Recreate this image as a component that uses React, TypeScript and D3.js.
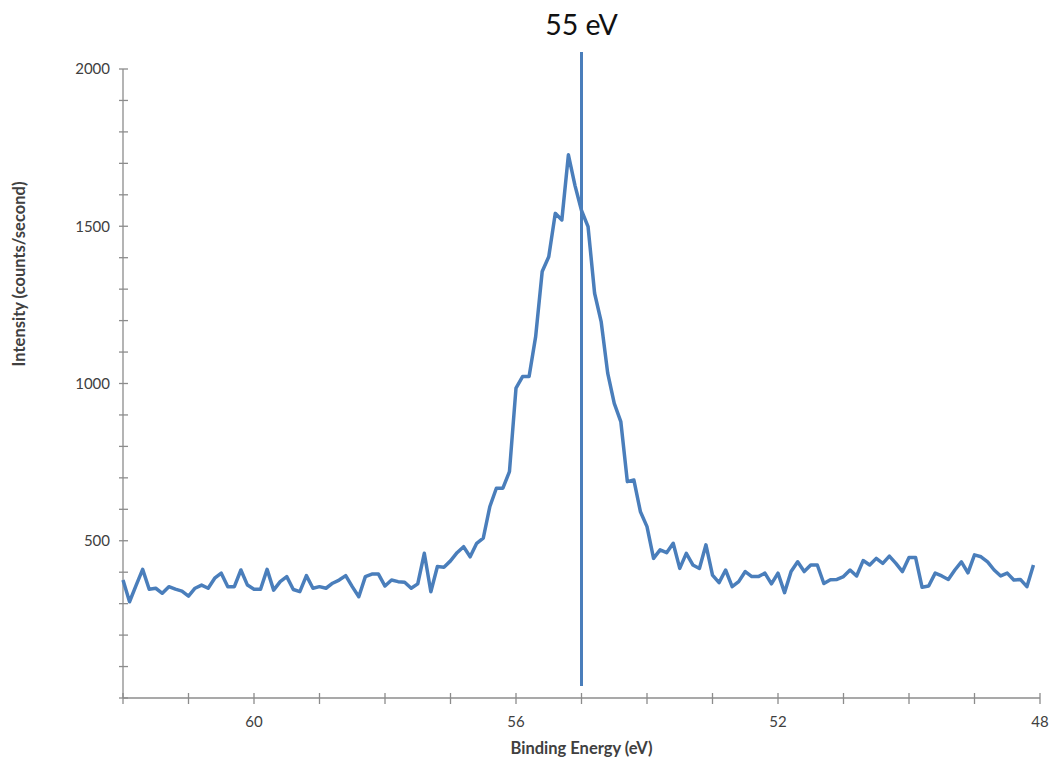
import React from "react";
import * as d3 from "d3";

const startEnergy = 62.0;
const stepEnergy = 0.1;
const intensity: number[] = [
  375, 306, 358, 409, 346, 349, 333, 354, 346, 340,
  324, 349, 359, 349, 381, 397, 354, 354, 407, 359,
  346, 346, 409, 343, 370, 386, 345, 338, 389, 349,
  354, 349, 365, 375, 389, 354, 322, 386, 394, 394,
  356, 375, 370, 368, 349, 363, 460, 338, 418, 416,
  436, 462, 481, 449, 492, 508, 608, 667, 667, 720,
  985, 1022, 1022, 1149, 1356, 1403, 1541, 1520, 1727, 1630,
  1550, 1499, 1287, 1197, 1033, 937, 879, 688, 693, 592,
  545, 444, 471, 462, 492, 412, 460, 423, 412, 487,
  391, 367, 407, 354, 370, 402, 386, 386, 397, 363,
  397, 335, 402, 433, 402, 423, 423, 364, 376, 377,
  386, 407, 388, 437, 423, 444, 428, 451, 428, 402,
  447, 447, 352, 356, 397, 388, 377, 407, 433, 398,
  455, 449, 433, 407, 388, 397, 375, 377, 354, 423,
];
const energies: number[] = intensity.map((_, i) => +(startEnergy - i * stepEnergy).toFixed(1));

const xDomain = [62, 48];
const yDomain = [0, 2000];
const xMajorTicks = [60, 56, 52, 48];
const xMinorTicks = d3.range(62, 47.5, -1);
const yMajorTicks = [500, 1000, 1500, 2000];
const yMinorTicks = d3.range(0, 2001, 100);
const markerEnergy = 55;
const markerLabel = "55 eV";
const xTitle = "Binding Energy (eV)";
const yTitle = "Intensity (counts/second)";

export default function App() {
  const W = 1052, H = 759;
  const left = 123, right = 1040, top = 69, bottom = 698;
  const x = d3.scaleLinear().domain(xDomain).range([left, right]);
  const y = d3.scaleLinear().domain(yDomain).range([bottom, top]);
  const line = d3.line<number>().x((_, i) => x(energies[i])).y((d) => y(d));
  const axisColor = "#8c8c8c";
  const lineColor = "#4a7ebb";
  const font = "Lato, 'Open Sans', sans-serif";
  return (
    <svg width={W} height={H} style={{ position: "absolute", left: 0, top: 0, background: "#fff" }}>
      {/* y axis */}
      <line x1={left} x2={left} y1={top} y2={bottom} stroke={axisColor} strokeWidth={1.3} />
      {yMinorTicks.map((t) => (
        <line key={"ym" + t} x1={left - 4} x2={left + 5} y1={y(t)} y2={y(t)} stroke={axisColor} strokeWidth={1.3} />
      ))}
      {yMajorTicks.map((t) => (
        <text key={"yl" + t} x={110} y={y(t)} dy="0.35em" textAnchor="end" fontSize={15} fill="#404040" fontFamily={font}>
          {t}
        </text>
      ))}
      {/* x axis */}
      <line x1={left} x2={right} y1={bottom} y2={bottom} stroke={axisColor} strokeWidth={1.3} />
      {xMinorTicks.map((t) => (
        <line key={"xm" + t} x1={x(t)} x2={x(t)} y1={bottom - 5} y2={bottom + 6} stroke={axisColor} strokeWidth={1.3} />
      ))}
      {xMajorTicks.map((t) => (
        <text key={"xl" + t} x={x(t)} y={722} dy="0.35em" textAnchor="middle" fontSize={15} fill="#404040" fontFamily={font}>
          {t}
        </text>
      ))}
      <text x={(left + right) / 2} y={748} dy="0.35em" textAnchor="middle" fontSize={16.5} fontWeight="bold" fill="#404040" fontFamily={font}>
        {xTitle}
      </text>
      <text
        transform={`translate(19,274) rotate(-90)`}
        dy="0.35em"
        textAnchor="middle"
        fontSize={16.5}
        fontWeight="bold"
        fill="#404040"
        fontFamily={font}
      >
        {yTitle}
      </text>
      {/* data */}
      <path d={line(intensity) || ""} fill="none" stroke={lineColor} strokeWidth={3.5} strokeLinejoin="round" />
      {/* marker */}
      <line x1={x(markerEnergy)} x2={x(markerEnergy)} y1={52} y2={686} stroke={lineColor} strokeWidth={3} />
      <text x={x(markerEnergy)} y={25} dy="0.35em" textAnchor="middle" fontSize={28.5} fill="#111" fontFamily={font}>
        {markerLabel}
      </text>
    </svg>
  );
}
